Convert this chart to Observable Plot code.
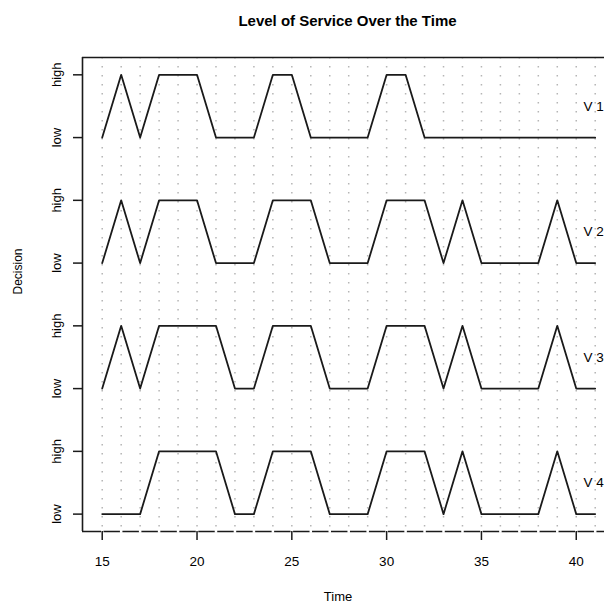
<!DOCTYPE html>
<html>
<head>
<meta charset="utf-8">
<script src="https://cdn.jsdelivr.net/npm/d3@7"></script>
<script src="https://cdn.jsdelivr.net/npm/@observablehq/plot@0.6"></script>
<style>
  html, body { margin: 0; padding: 0; background: #ffffff; }
  #chart svg { display: block; }
</style>
</head>
<body>
<div id="chart"></div>
<script>
// ---- data ----
const time = [15, 16, 17, 18, 19, 20, 21, 22, 23, 24, 25, 26, 27, 28, 29, 30, 31, 32, 33, 34, 35, 36, 37, 38, 39, 40, 41];
const v1 = ["low","high","low","high","high","high","low","low","low","high","high","low","low","low","low","high","high","low","low","low","low","low","low","low","low","low","low"];
const v2 = ["low","high","low","high","high","high","low","low","low","high","high","high","low","low","low","high","high","high","low","high","low","low","low","low","high","low","low"];
const v3 = ["low","high","low","high","high","high","high","low","low","high","high","high","low","low","low","high","high","high","low","high","low","low","low","low","high","low","low"];
const v4 = ["low","low","low","high","high","high","high","low","low","high","high","high","low","low","low","high","high","high","low","high","low","low","low","low","high","low","low"];
const seriesNames = ["V 1", "V 2", "V 3", "V 4"];
const levels = ["low", "high"];
const xTicks = [15, 20, 25, 30, 35, 40];
const titleText = "Level of Service Over the Time";
const xLabel = "Time";
const yLabel = "Decision";

// ---- build table ----
const series = [v1, v2, v3, v4];
const nS = series.length;
const offsetOf = i => (nS - 1 - i) * 2;
const data = series.flatMap((s, i) =>
  s.map((lv, j) => ({ series: seriesNames[i], time: time[j], y: offsetOf(i) + levels.indexOf(lv) }))
);
const yTicks = d3.range(nS * 2);
const xDomain = [13.96, 41.49];
const yDomain = [-0.277, 7.276];
const ink = "#1a1a1a";

const chart = Plot.plot({
  width: 604,
  height: 603,
  marginTop: 57,
  marginBottom: 72,
  marginLeft: 82,
  marginRight: 0,
  style: { fontFamily: "'Liberation Sans', Arial, Helvetica, sans-serif", background: "#ffffff", color: "#000000" },
  x: { domain: xDomain },
  y: { domain: yDomain },
  marks: [
    Plot.ruleX(time, { stroke: "#b5b5b5", strokeWidth: 1.5, strokeDasharray: "1.5,7.5" }),
    Plot.lineY(data, { x: "time", y: "y", z: "series", stroke: ink, strokeWidth: 1.8 }),
    Plot.ruleY([yDomain[1], yDomain[0]], { stroke: ink, strokeWidth: 1.6 }),
    Plot.ruleX([xDomain[0]], { stroke: ink, strokeWidth: 1.6 }),
    Plot.ruleX(time, { y1: yDomain[0] - 0.03, y2: yDomain[0] + 0.03, stroke: "#ffffff", strokeWidth: 2.5 }),
    Plot.axisX(xTicks, { tickSize: 9, tickPadding: 16, fontSize: 13.5, label: null, stroke: ink, strokeWidth: 1.5 }),
    Plot.axisY(yTicks, { tickSize: 9, tickPadding: 13, tickRotate: -90, fontSize: 13, label: null,
      tickFormat: d => levels[d % 2], stroke: ink, strokeWidth: 1.5 }),
    Plot.text(seriesNames, { frameAnchor: "right", y: (d, i) => offsetOf(i) + 0.5, dx: -21, textAnchor: "start", fontSize: 13.5 }),
    Plot.text([yLabel], { frameAnchor: "left", dx: -64, rotate: -90, fontSize: 12 }),
    Plot.text([xLabel], { frameAnchor: "bottom", dy: 69, dx: -5.5, fontSize: 13 }),
    Plot.text([titleText], { frameAnchor: "top", dy: -42, dx: 4, fontSize: 15, fontWeight: "bold" })
  ]
});
document.getElementById("chart").appendChild(chart);
</script>
</body>
</html>
